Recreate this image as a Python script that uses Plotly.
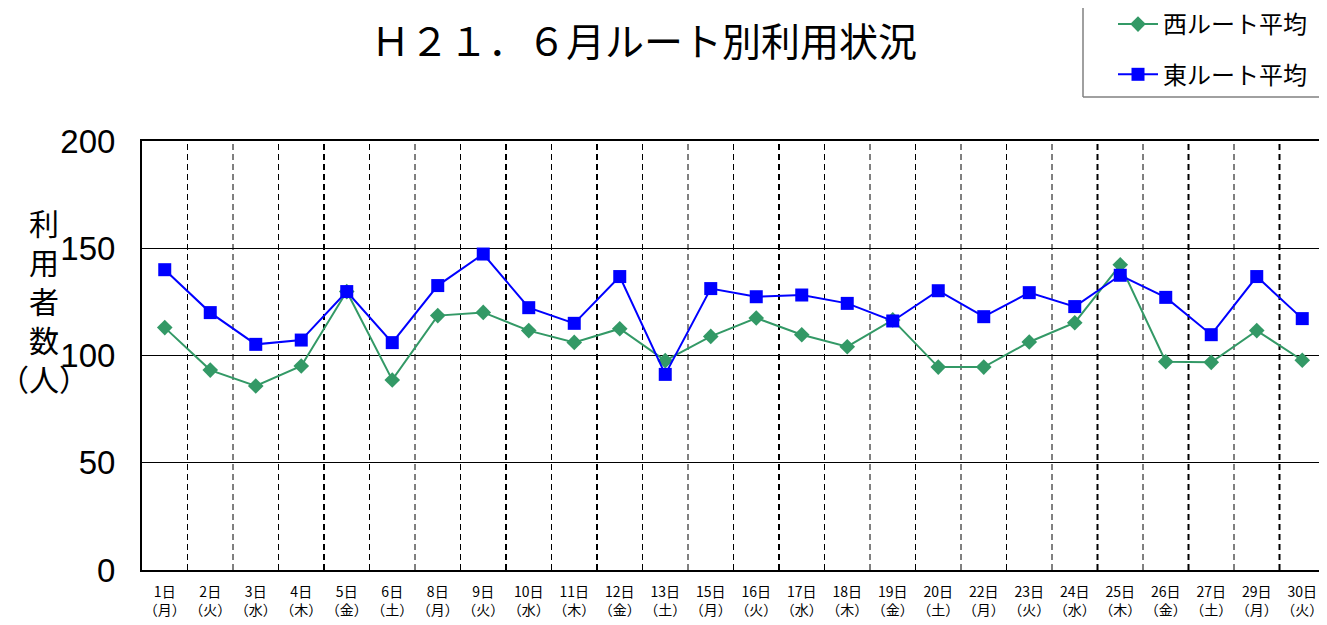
import plotly.graph_objects as go

days = ["1日", "2日", "3日", "4日", "5日", "6日", "8日", "9日", "10日", "11日", "12日", "13日",
        "15日", "16日", "17日", "18日", "19日", "20日", "22日", "23日", "24日", "25日", "26日",
        "27日", "29日", "30日"]
weekdays = ["月", "火", "水", "木", "金", "土", "月", "火", "水", "木", "金", "土",
            "月", "火", "水", "木", "金", "土", "月", "火", "水", "木", "金", "土", "月", "火"]
west = [113.0, 93.2, 85.8, 95.1, 129.8, 88.6, 118.6, 120.1, 111.6, 106.1, 112.5, 97.6,
        108.9, 117.5, 109.7, 104.1, 116.6, 94.6, 94.6, 106.3, 115.3, 142.3, 97.1, 96.8, 111.6, 97.8]
east = [140.0, 120.0, 105.2, 107.2, 129.8, 106.0, 132.6, 147.3, 122.3, 115.0, 136.8, 91.2,
        131.2, 127.4, 128.2, 124.3, 116.1, 130.2, 118.1, 129.3, 122.8, 137.4, 127.1, 109.7, 136.8, 117.2]
series_names = ["西ルート平均", "東ルート平均"]
title_text = "Ｈ２１．６月ルート別利用状況"
y_title = "利<br>用<br>者<br>数<br>（人）"
y_ticks = [0, 50, 100, 150, 200]
heavy_after = [3, 7, 9, 13, 20, 22, 24]

labels = [f"{d}<br>（{w}）" for d, w in zip(days, weekdays)]
xs = list(range(len(days)))

FONT = "Liberation Sans, Arial, Noto Sans CJK JP, sans-serif"
JP = "Noto Sans CJK JP, sans-serif"

# the page body has an 8px margin; figure is sized/offset to compensate
OFF = 8
W, H = 1327 - OFF, 625 - OFF

fig = go.Figure()
fig.add_trace(go.Scatter(
    x=xs, y=west, name=series_names[0], mode="lines+markers",
    line=dict(color="#339966", width=2),
    marker=dict(symbol="diamond", size=12, color="#339966"),
    legendgroup="w",
))
fig.add_trace(go.Scatter(
    x=xs, y=east, name=series_names[1], mode="lines+markers",
    line=dict(color="#0000FF", width=2),
    marker=dict(symbol="square", size=13, color="#0000FF"),
    legendgroup="e",
))

shapes = []
for i in range(len(days) - 1):
    shapes.append(dict(
        type="line", xref="x", yref="paper", x0=i + 0.5, x1=i + 0.5, y0=0, y1=1,
        line=dict(color="black", width=2 if i in heavy_after else 1, dash="6px,4px"),
        layer="below",
    ))
# legend frame (left and bottom edges; top/right fall outside the canvas)
fx0 = (1083 - 142) / 1183
fx1 = (1340 - 142) / 1183
fy0 = (570 - 97) / 429
fy1 = (570 + 20) / 429
shapes.append(dict(type="line", xref="paper", yref="paper", x0=fx0, x1=fx0, y0=fy0, y1=fy1,
                   line=dict(color="#808080", width=1.5)))
shapes.append(dict(type="line", xref="paper", yref="paper", x0=fx0, x1=fx1, y0=fy0, y1=fy0,
                   line=dict(color="#808080", width=1.5)))

fig.update_layout(
    width=W, height=H,
    margin=dict(l=142 - OFF, r=2, t=141 - OFF, b=55, autoexpand=False),
    paper_bgcolor="white", plot_bgcolor="white",
    font=dict(family=FONT, color="black"),
    title=dict(text=title_text, x=(644 - OFF) / W, xanchor="center",
               y=1 - (42 - OFF) / H, yanchor="middle",
               font=dict(size=39, family=JP, color="black")),
    showlegend=True,
    legend=dict(
        x=(1113 - 142) / 1183, xanchor="left", y=(570 - 2) / 429, yanchor="top",
        borderwidth=0, bgcolor="rgba(0,0,0,0)",
        font=dict(size=24, family=JP, color="black"),
        tracegroupgap=16, itemwidth=40,
    ),
    shapes=shapes,
    xaxis=dict(
        range=[-0.5, len(days) - 0.5],
        tickmode="array", tickvals=xs, ticktext=labels,
        tickfont=dict(size=14, family=JP),
        showgrid=False, zeroline=False,
        showline=True, linecolor="black", linewidth=2, mirror=True,
        ticks="", ticklabelstandoff=8,
    ),
    yaxis=dict(
        range=[0, 200], tickvals=y_ticks,
        tickfont=dict(size=33, family=FONT),
        showgrid=True, gridcolor="black", gridwidth=1,
        zeroline=False,
        showline=True, linecolor="black", linewidth=2, mirror=True,
        ticks="", ticklabelstandoff=18,
    ),
    annotations=[dict(
        text=y_title, xref="paper", yref="paper", x=(44 - 142) / 1183, y=0.629,
        xanchor="center", yanchor="middle", showarrow=False, align="center",
        font=dict(size=30, family=JP, color="black"),
    )],
)

fig.write_html("out.html")
